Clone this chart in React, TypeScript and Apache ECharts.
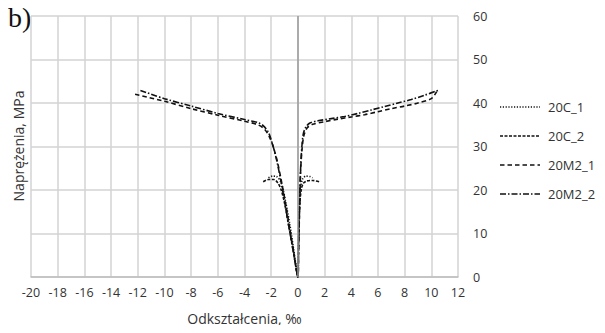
import React, { useEffect, useRef } from "react";
import * as echarts from "echarts";

const seriesNames = ["20C_1", "20C_2", "20M2_1", "20M2_2"];

// strain [‰], stress [MPa] — left branch (negative strain) then right branch
const c1Strain = [-2.2, -1.9, -1.6, -1.3, -1.1, -0.9, -0.6, -0.3, 0, 0.03, 0.07, 0.12, 0.2, 0.35, 0.6, 0.9, 1.1];
const c1Stress = [22.8, 23.2, 23.1, 22.0, 20.0, 17.0, 12.0, 6.0, 0, 6.0, 12.0, 17.0, 20.5, 22.5, 23.2, 23.1, 22.8];

const c2Strain = [-2.6, -2.2, -1.8, -1.5, -1.25, -1.0, -0.7, -0.35, 0, 0.04, 0.09, 0.15, 0.25, 0.4, 0.7, 1.1, 1.6];
const c2Stress = [21.9, 22.4, 22.4, 21.6, 20.0, 17.0, 12.0, 6.0, 0, 6.0, 12.0, 17.0, 20.0, 21.5, 22.1, 22.2, 21.9];

const m1Strain = [-12.2, -10, -8, -6, -4, -3, -2.5, -2.1, -1.8, -1.5, -1.2, -0.9, -0.6, -0.3, 0, 0.05, 0.1, 0.15, 0.2, 0.3, 0.45, 0.7, 1.1, 2, 3, 4, 5, 6, 7, 8, 9, 10, 10.4];
const m1Stress = [42.0, 40.4, 38.7, 37.2, 35.8, 35.0, 34.0, 32.0, 29.5, 26.0, 21.5, 16.5, 11.0, 5.5, 0, 6, 12, 18, 24, 29, 32.5, 34.3, 35.1, 35.7, 36.3, 36.8, 37.3, 38.0, 38.7, 39.3, 40.0, 41.0, 42.6];

const m2Strain = [-11.8, -10, -8, -6, -4, -3, -2.6, -2.2, -1.9, -1.6, -1.3, -1.0, -0.7, -0.35, 0, 0.05, 0.1, 0.15, 0.22, 0.3, 0.4, 0.6, 0.9, 1.5, 2.5, 3.5, 4.5, 5.5, 6.5, 7.5, 8.5, 9.5, 10.5];
const m2Stress = [42.9, 41.0, 39.3, 37.6, 36.2, 35.5, 34.8, 33.2, 30.5, 27.0, 22.5, 17.5, 12.0, 6.0, 0, 7, 14, 20, 26, 30, 32.8, 34.5, 35.4, 35.9, 36.4, 36.9, 37.6, 38.4, 39.2, 40.0, 40.8, 41.8, 42.9];

const strains = [c1Strain, c2Strain, m1Strain, m2Strain];
const stresses = [c1Stress, c2Stress, m1Stress, m2Stress];
const dashes: number[][] = [[1.2, 1.6], [3, 1.5], [4.5, 3], [6, 2, 1.5, 2]];

const FONT = "Open Sans";

export default function App() {
  const ref = useRef<HTMLDivElement>(null);
  useEffect(() => {
    if (!ref.current) return;
    const chart = echarts.init(ref.current, undefined, { renderer: "svg" });
    const series = seriesNames.map((name, i) => ({
      name,
      type: "line",
      data: strains[i].map((x, k) => [x, stresses[i][k]]),
      showSymbol: false,
      symbol: "none",
      smooth: 0.3,
      lineStyle: { color: "#111", width: 1.6, type: dashes[i] },
      itemStyle: { color: "#111" },
      markLine:
        i === 0
          ? {
              silent: true,
              symbol: "none",
              label: { show: false },
              lineStyle: { color: "#9a9a9a", width: 1.5, type: "solid" },
              data: [{ xAxis: 0 }],
            }
          : undefined,
      z: 3,
    }));

    const legendItems: any[] = [];
    seriesNames.forEach((name, i) => {
      const y = 107 + i * 29;
      legendItems.push({
        type: "line",
        shape: { x1: 500, y1: y, x2: 540, y2: y },
        style: { stroke: "#111", lineWidth: 1.6, lineDash: dashes[i] },
      });
      legendItems.push({
        type: "text",
        x: 548,
        y,
        style: {
          text: name,
          font: `13px '${FONT}'`,
          fill: "#333",
          verticalAlign: "middle",
        },
      });
    });

    chart.setOption({
      animation: false,
      textStyle: { fontFamily: FONT },
      grid: { left: 31, right: 147, top: 16, bottom: 56 },
      xAxis: {
        type: "value",
        min: -20,
        max: 12,
        interval: 2,
        name: "Odkształcenia, ‰",
        nameLocation: "middle",
        nameGap: 34,
        nameTextStyle: { fontFamily: FONT, fontSize: 14, color: "#333" },
        axisLine: { show: true, lineStyle: { color: "#bdbdbd", width: 1.5 } },
        axisTick: { show: false },
        axisLabel: { fontFamily: FONT, fontSize: 12.5, color: "#333", margin: 9 },
        splitLine: { show: true, lineStyle: { color: "#d3d3d3", width: 1.5 } },
      },
      yAxis: {
        type: "value",
        min: 0,
        max: 60,
        interval: 10,
        position: "right",
        axisLine: { show: false },
        axisTick: { show: false },
        axisLabel: { fontFamily: FONT, fontSize: 12.5, color: "#333", margin: 15 },
        splitLine: { show: true, lineStyle: { color: "#d3d3d3", width: 1.5 } },
      },
      graphic: [
        {
          type: "text",
          left: 8,
          top: 3,
          style: { text: "b)", font: "28px 'Liberation Serif'", fill: "#111" },
        },
        {
          type: "text",
          x: 18,
          y: 146,
          rotation: Math.PI / 2,
          style: {
            text: "Naprężenia, MPa",
            font: `14px '${FONT}'`,
            fill: "#333",
            align: "center",
            verticalAlign: "middle",
          },
        },
        ...legendItems,
      ],
      series,
    });
    return () => chart.dispose();
  }, []);
  return <div ref={ref} style={{ width: 605, height: 333, margin: -8 }} />;
}
